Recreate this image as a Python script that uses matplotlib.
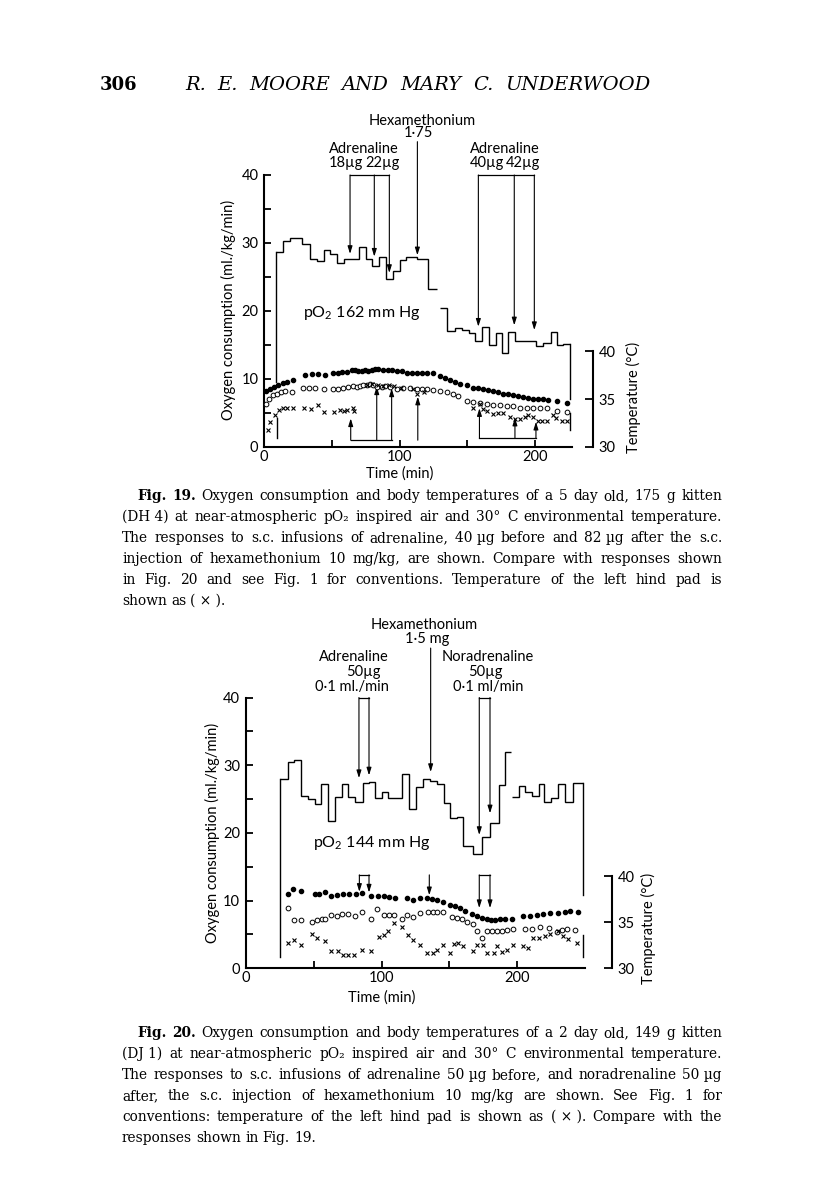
import matplotlib
matplotlib.use('Agg')
import matplotlib.pyplot as plt

plt.rcParams['font.family'] = ['Lato', 'DejaVu Sans']
plt.rcParams['mathtext.fontset'] = 'custom'
plt.rcParams['mathtext.rm'] = 'Lato'
plt.rcParams['mathtext.it'] = 'Lato:italic'
plt.rcParams['axes.linewidth'] = 1.5

W, H = 816, 1184
SERIF = ['DejaVu Serif', 'DejaVu Sans']

# ---------------- Fig. 19 (kitten DH4) ----------------
o2_19_edges_a = [9, 14, 19, 28, 34, 39, 44, 49, 54, 59, 64, 70, 75, 80, 85, 90, 95, 100, 105, 113, 121, 128]
o2_19_vals_a = [28.7, 30.3, 30.8, 29.8, 27.6, 27.3, 28.9, 28.4, 27.1, 27.7, 27.6, 29.4, 27.7, 26.6, 28.0,
                24.7, 25.9, 27.5, 28.0, 27.7, 23.2]
o2_19_edges_b = [130, 135, 141, 146, 151, 156, 161, 166, 171, 176, 180, 185, 201, 206, 212, 216, 221, 226]
o2_19_vals_b = [20.5, 17.1, 17.5, 17.2, 16.7, 15.6, 17.7, 15.0, 16.7, 13.8, 16.9, 15.6, 14.8, 15.3, 16.9,
                15.0, 15.2]

t19_rect = [1.2, 4.4, 7.4, 10.6, 13.8, 17.2, 21.2, 30.2, 35.2, 40.1, 45.0, 51.2, 54.9, 57.4, 61.0, 64.7,
            67.2, 69.7, 72.1, 74.6, 77.0, 79.5, 81.9, 84.4, 88.1, 91.8, 94.2, 97.9, 101.6, 105.3, 109.0,
            112.7, 116.4, 120.1, 125.0, 129.9, 133.6, 137.3, 140.9, 145.0, 149.6, 154.5, 158.2, 161.9,
            165.6, 169.3, 173.0, 176.6, 180.3, 184.0, 187.7, 191.4, 195.1, 198.8, 202.5, 206.2, 209.8,
            216.0, 223.4]
temp19_rect = [35.8, 36.1, 36.3, 36.5, 36.7, 36.8, 37.0, 37.5, 37.6, 37.6, 37.5, 37.7, 37.7, 37.8, 37.8,
               38.0, 38.0, 37.9, 37.9, 38.0, 37.9, 38.0, 38.1, 38.1, 38.0, 38.0, 38.0, 37.9, 37.9, 37.7,
               37.7, 37.7, 37.7, 37.7, 37.7, 37.4, 37.2, 37.0, 36.8, 36.6, 36.5, 36.2, 36.2, 36.1, 35.9,
               35.8, 35.7, 35.5, 35.5, 35.4, 35.3, 35.2, 35.1, 35.0, 35.0, 35.0, 34.9, 34.8, 34.6]
t19_open = [1.2, 4.0, 6.9, 9.8, 12.8, 15.7, 20.4, 29.0, 33.4, 37.6, 44.3, 51.2, 54.9, 58.6, 62.2, 65.5,
            68.4, 70.9, 73.3, 75.8, 78.3, 80.7, 83.2, 86.9, 89.4, 93.0, 97.9, 102.8, 107.8, 112.7, 116.4,
            120.1, 125.0, 130.0, 134.8, 139.7, 143.5, 149.6, 154.5, 159.4, 164.3, 169.3, 174.2, 179.1,
            184.0, 188.9, 193.8, 198.8, 203.7, 208.6, 216.0, 223.4]
temp19_open = [34.5, 35.0, 35.4, 35.5, 35.7, 35.8, 35.7, 36.2, 36.2, 36.2, 36.1, 36.1, 36.1, 36.2, 36.3,
               36.4, 36.3, 36.4, 36.5, 36.5, 36.6, 36.5, 36.3, 36.3, 36.4, 36.3, 36.1, 36.2, 36.2, 36.1,
               36.0, 36.0, 35.9, 35.8, 35.7, 35.5, 35.3, 34.8, 34.7, 34.6, 34.5, 34.4, 34.4, 34.3, 34.3,
               34.1, 34.1, 34.1, 34.1, 34.1, 33.8, 33.7]
t19_pad = [2.7, 4.4, 8.1, 11.3, 14.3, 17.2, 21.2, 29.8, 34.7, 39.6, 44.5, 51.7, 56.1, 59.1, 61.0, 65.5,
           66.5, 76.0, 80.0, 84.0, 88.0, 92.0, 96.0, 101.0, 110.0, 113.0, 118.0, 154.5, 159.4, 161.9,
           164.3, 169.0, 173.0, 176.6, 181.5, 185.2, 189.0, 192.5, 195.0, 198.8, 202.0, 205.5, 208.6,
           213.5, 215.5, 219.6, 223.4]
temp19_pad = [31.8, 32.6, 33.3, 33.9, 34.1, 34.1, 34.1, 34.1, 34.0, 34.4, 33.7, 33.6, 33.9, 33.8, 33.9,
              34.1, 33.8, 36.5, 36.6, 36.5, 36.4, 36.5, 36.4, 36.2, 36.0, 35.5, 35.7, 34.1, 34.5, 34.0,
              33.8, 33.4, 33.5, 33.5, 33.1, 32.9, 32.9, 33.1, 33.3, 33.1, 32.7, 32.7, 32.7, 33.3, 33.0,
              32.7, 32.7]

# ---------------- Fig. 20 (kitten DJ1) ----------------
o2_20_edges_a = [25.3, 30.9, 35.6, 40.5, 46.1, 51.0, 55.2, 60.8, 65.8, 70.7, 75.6, 80.5, 86.2, 90.8, 95.2,
                 100.1, 105.0, 115.3, 120.3, 125.2, 130.8, 135.7, 140.6, 146.0, 150.4, 155.4, 160.2,
                 167.6, 174.0, 180.0, 186.5, 191.0, 195.0]
o2_20_vals_a = [27.9, 30.5, 30.8, 25.5, 25.0, 24.2, 27.2, 21.8, 25.3, 27.2, 25.3, 24.6, 27.4, 27.5, 25.2,
                26.1, 25.1, 28.7, 23.5, 26.8, 27.9, 27.6, 27.2, 24.4, 22.2, 22.3, 18.0, 16.9, 19.4, 21.5,
                27.1, 32.0]
o2_20_edges_b = [196, 201, 206, 211, 216, 220, 225, 230, 235, 241, 248.6]
o2_20_vals_b = [25.3, 27.0, 26.0, 25.4, 27.2, 24.5, 25.2, 27.2, 24.5, 27.3]

t20_rect = [31.4, 35.1, 40.7, 51.0, 54.0, 58.4, 62.8, 67.0, 71.4, 76.3, 81.2, 85.9, 92.0, 97.7, 101.8,
            105.5, 110.0, 118.5, 123.0, 128.4, 133.3, 137.0, 140.6, 145.6, 150.5, 154.2, 157.9, 161.6,
            166.5, 170.2, 173.9, 177.6, 180.5, 183.7, 187.4, 191.0, 196.0, 204.5, 209.4, 214.3, 219.2,
            224.1, 230.3, 235.2, 238.8, 245.0]
temp20_rect = [38.1, 38.6, 38.4, 38.1, 38.1, 38.3, 37.9, 38.0, 38.1, 38.1, 38.1, 38.2, 37.8, 37.8, 37.8,
               37.7, 37.6, 37.6, 37.4, 37.6, 37.6, 37.5, 37.4, 37.2, 36.9, 36.8, 36.5, 36.2, 35.9, 35.7,
               35.5, 35.4, 35.3, 35.3, 35.4, 35.4, 35.4, 35.7, 35.7, 35.8, 35.9, 36.0, 36.0, 36.1, 36.2,
               36.1]
t20_open = [31.4, 35.8, 40.7, 48.6, 52.3, 56.0, 58.4, 62.8, 67.0, 70.6, 75.6, 80.5, 85.9, 92.0, 97.0,
            101.8, 105.5, 109.4, 115.3, 118.5, 123.5, 128.4, 134.5, 138.2, 141.1, 145.6, 151.7, 155.4,
            159.1, 162.8, 167.7, 170.6, 173.9, 177.6, 181.3, 185.0, 188.6, 192.3, 197.2, 205.8, 210.7,
            216.8, 223.0, 229.1, 232.8, 236.5, 242.7]
temp20_open = [36.5, 35.2, 35.2, 35.0, 35.2, 35.4, 35.4, 35.8, 35.7, 35.9, 35.9, 35.7, 36.1, 35.4, 36.4,
               35.8, 35.8, 35.8, 35.4, 35.8, 35.6, 36.0, 36.1, 36.1, 36.1, 36.1, 35.6, 35.5, 35.4, 35.0,
               34.8, 34.0, 33.3, 34.0, 34.0, 34.0, 34.1, 34.2, 34.3, 34.3, 34.3, 34.5, 34.4, 33.9, 34.2,
               34.3, 34.2]
t20_pad = [30.9, 35.6, 40.5, 48.6, 52.3, 58.4, 62.8, 68.2, 71.4, 75.6, 80.0, 85.4, 92.0, 98.2, 101.8,
           105.0, 109.2, 115.3, 119.7, 123.5, 128.4, 133.8, 138.2, 140.6, 145.6, 150.5, 153.4, 156.6,
           160.3, 167.7, 170.6, 174.5, 178.0, 182.5, 185.4, 188.6, 192.3, 197.2, 204.5, 208.2, 211.8,
           216.2, 220.4, 224.1, 230.3, 234.0, 237.7, 244.3]
temp20_pad = [32.8, 33.1, 32.5, 33.7, 33.3, 33.0, 31.9, 31.9, 31.4, 31.4, 31.4, 32.0, 31.9, 33.4, 33.6,
              34.0, 34.9, 34.5, 33.6, 33.1, 32.5, 31.7, 31.7, 32.0, 32.5, 31.7, 32.6, 32.8, 32.4, 31.9,
              32.5, 32.5, 31.7, 31.7, 32.4, 31.8, 32.0, 32.5, 32.4, 32.2, 33.3, 33.3, 33.5, 33.7, 34.0,
              33.5, 33.2, 32.8]

caption19 = [
    "Fig. 19.  Oxygen consumption and body temperatures of a 5 day old, 175 g kitten",
    "(DH\u00a04) at near-atmospheric pO\u2082 inspired air and 30° C environmental temperature.",
    "The responses to s.c. infusions of adrenaline, 40\u00a0µg before and 82\u00a0µg after the s.c.",
    "injection of hexamethonium 10 mg/kg, are shown.  Compare with responses shown",
    "in Fig. 20 and see Fig. 1 for conventions. Temperature of the left hind pad is",
    "shown as (\u00a0×\u00a0).",
]
caption20 = [
    "Fig. 20.  Oxygen consumption and body temperatures of a 2 day old, 149 g kitten",
    "(DJ\u00a01) at near-atmospheric pO\u2082 inspired air and 30° C environmental temperature.",
    "The responses to s.c. infusions of adrenaline 50\u00a0µg before, and noradrenaline 50\u00a0µg",
    "after, the s.c. injection of hexamethonium 10 mg/kg are shown.  See Fig. 1 for",
    "conventions: temperature of the left hind pad is shown as (\u00a0×\u00a0).  Compare with the",
    "responses shown in Fig. 19.",
]

fig = plt.figure(figsize=(W / 100, H / 100), dpi=100)
renderer = fig.canvas.get_renderer()


def make_panel(left, bottom, xmax, ppm, ppu, o2_at_40c, t_spine):
    # pixel geometry
    ax = fig.add_axes([left / W, 1 - bottom / H, xmax * ppm / W, 40 * ppu / H])
    ax.set_xlim(0, xmax)
    ax.set_ylim(0, 40)
    ax.spines['top'].set_visible(False)
    ax.spines['right'].set_visible(False)
    ax.set_xticks([0, 100, 200])
    ax.set_xticks([50, 150], minor=True)
    ax.set_yticks([0, 10, 20, 30, 40])
    ax.set_yticks([5, 15, 25, 35], minor=True)
    ax.tick_params(which='both', direction='in', length=5, width=1.3, labelsize=10.5, pad=4)
    ax.tick_params(axis='x', pad=2)
    tw = ax.twinx()
    tw.set_ylim(30, 30 + 10 * 40 / o2_at_40c)
    for s in ['top', 'left', 'bottom']:
        tw.spines[s].set_visible(False)
    tw.spines['right'].set_position(('axes', t_spine / xmax))
    tw.spines['right'].set_bounds(30, 40)
    tw.set_yticks([30, 35, 40])
    tw.tick_params(direction='in', length=6, width=1.3, labelsize=10.5, pad=4)
    return ax, tw


def arrow(ax, x, y_from, y_to):
    ax.annotate('', xy=(x, y_to), xytext=(x, y_from), annotation_clip=False,
                arrowprops=dict(arrowstyle='-|>,head_length=0.45,head_width=0.14', lw=0.8,
                                color='k', shrinkA=0, shrinkB=0))


def bracket(ax, xs, y_bar, tips):
    ax.plot([xs[0], xs[-1]], [y_bar, y_bar], color='k', lw=0.9, clip_on=False)
    for x, tip in zip(xs, tips):
        arrow(ax, x, y_bar, tip)


def temps(tw, t_r, v_r, t_o, v_o, t_p, v_p):
    tw.plot(t_r, v_r, 'o', ms=3, color='k', clip_on=False)
    tw.plot(t_o, v_o, 'o', ms=3.4, mfc='white', mec='k', mew=0.7, clip_on=False)
    tw.plot(t_p, v_p, 'x', ms=3.4, color='k', mew=0.8, clip_on=False)


def put_line(words, x0, x1, y, fs, justify, bold=0, style='normal'):
    # lay words out one by one so the line can be justified like the printed page
    texts = []
    for j, w in enumerate(words):
        fam = 'DejaVu Serif' if all(ord(c) < 256 for c in w) else SERIF
        texts.append(fig.text(0, 0, w, fontsize=fs, family=fam, va='baseline', ha='left',
                              weight='bold' if j < bold else 'normal', style=style))
    widths = [t.get_window_extent(renderer=renderer).width for t in texts]
    if justify and len(words) > 1:
        gap = max((x1 - x0 - sum(widths)) / (len(words) - 1), 2.5)
    else:
        gap = fs * 0.3 * 100 / 72
    x = x0
    for t, wd in zip(texts, widths):
        t.set_position((x / W, 1 - y / H))
        x += wd + gap


def caption(lines, y_first, dy):
    for i, line in enumerate(lines):
        words = [w for w in line.split(' ') if w]
        x0 = 137 if i == 0 else 122
        put_line(words, x0, 722, y_first + i * dy, 9.9, i < len(lines) - 1, bold=2 if i == 0 else 0)


# ---------- Fig. 19 ----------
ax, tw = make_panel(264, 447, 227, 1.355, 6.8, 14.1, 243)
ax.stairs(o2_19_vals_a, o2_19_edges_a, baseline=None, color='k', lw=1.0)
ax.stairs(o2_19_vals_b, o2_19_edges_b, baseline=None, color='k', lw=1.0)
ax.plot([9, 9], [9.5, o2_19_vals_a[0]], color='k', lw=1.0)
ax.plot([9.5, 9.5], [1.3, 4.3], color='k', lw=1.0)
ax.plot([226, 226], [o2_19_vals_b[-1], 7.0], color='k', lw=1.0)
ax.plot([226, 226], [2.5, 5.0], color='k', lw=1.0)
temps(tw, t19_rect, temp19_rect, t19_open, temp19_open, t19_pad, temp19_pad)

bracket(ax, [63.5, 81.4, 92.5], 40, [28.4, 28.0, 25.6])
bracket(ax, [158.2, 184.7, 199.5], 40, [17.7, 17.9, 17.2])
arrow(ax, 113.2, 44.9, 28.2)
bracket(ax, [64, 83.2, 94.2], 1.0, [4.2, 8.9, 8.6])
bracket(ax, [159, 185.2, 200.7], 1.3, [5.7, 4.3, 3.7])
arrow(ax, 113.5, 1.0, 7.4)

ax.text(116.4, 48.0, 'Hexamethonium', ha='center', va='center', fontsize=10.5, clip_on=False)
ax.text(113.9, 46.2, '1·75', ha='center', va='center', fontsize=10.5, clip_on=False)
ax.text(73.8, 43.8, 'Adrenaline', ha='center', va='center', fontsize=10.5, clip_on=False)
ax.text(60.5, 41.8, '18µg', ha='center', va='center', fontsize=10.5, clip_on=False)
ax.text(87.6, 41.8, '22µg', ha='center', va='center', fontsize=10.5, clip_on=False)
ax.text(177.9, 43.8, 'Adrenaline', ha='center', va='center', fontsize=10.5, clip_on=False)
ax.text(164.4, 41.8, '40µg', ha='center', va='center', fontsize=10.5, clip_on=False)
ax.text(191.4, 41.8, '42µg', ha='center', va='center', fontsize=10.5, clip_on=False)
ax.text(28.8, 19.7, 'pO$_2$ 162 mm Hg', ha='left', va='center', fontsize=11.5)

fig.text(228 / W, 1 - 310 / H, 'Oxygen consumption (ml./kg/min)', rotation=90,
         ha='center', va='center', fontsize=10.5)
fig.text(633 / W, 1 - 397 / H, 'Temperature (°C)', rotation=90, ha='center', va='center', fontsize=10.5)
fig.text(400 / W, 1 - 474 / H, 'Time (min)', ha='center', va='center', fontsize=10.5)

# ---------- Fig. 20 ----------
ax, tw = make_panel(245.7, 968.3, 250, 1.358, 6.77, 13.6, 270)
ax.stairs(o2_20_vals_a, o2_20_edges_a, baseline=None, color='k', lw=1.0)
ax.stairs(o2_20_vals_b, o2_20_edges_b, baseline=None, color='k', lw=1.0)
ax.plot([25.3, 25.3], [1.7, o2_20_vals_a[0]], color='k', lw=1.0)
ax.plot([248.6, 248.6], [o2_20_vals_b[-1], 10.8], color='k', lw=1.0)
ax.plot([248.6, 248.6], [1.7, 4.9], color='k', lw=1.0)
temps(tw, t20_rect, temp20_rect, t20_open, temp20_open, t20_pad, temp20_pad)

bracket(ax, [83.4, 90.8], 40, [28.1, 28.5])
bracket(ax, [172, 179.9], 40, [19.7, 22.9])
arrow(ax, 136.2, 47.3, 29.0)
bracket(ax, [83.7, 90.8], 13.8, [11.3, 11.2])
arrow(ax, 135.2, 13.8, 10.8)
bracket(ax, [172, 179.9], 13.8, [8.9, 8.9])

ax.text(131.3, 50.7, 'Hexamethonium', ha='center', va='center', fontsize=10.5, clip_on=False)
ax.text(133.3, 48.6, '1·5 mg', ha='center', va='center', fontsize=10.5, clip_on=False)
ax.text(79.7, 46.0, 'Adrenaline', ha='center', va='center', fontsize=10.5, clip_on=False)
ax.text(86.6, 43.8, '50µg', ha='center', va='center', fontsize=10.5, clip_on=False)
ax.text(78.5, 41.6, '0·1 ml./min', ha='center', va='center', fontsize=10.5, clip_on=False)
ax.text(177.9, 46.0, 'Noradrenaline', ha='center', va='center', fontsize=10.5, clip_on=False)
ax.text(176.2, 43.8, '50µg', ha='center', va='center', fontsize=10.5, clip_on=False)
ax.text(178.6, 41.6, '0·1 ml/min', ha='center', va='center', fontsize=10.5, clip_on=False)
ax.text(49.6, 18.5, 'pO$_2$ 144 mm Hg', ha='left', va='center', fontsize=11.5)

fig.text(212 / W, 1 - 833 / H, 'Oxygen consumption (ml./kg/min)', rotation=90,
         ha='center', va='center', fontsize=10.5)
fig.text(648 / W, 1 - 928 / H, 'Temperature (°C)', rotation=90, ha='center', va='center', fontsize=10.5)
fig.text(382 / W, 1 - 998 / H, 'Time (min)', ha='center', va='center', fontsize=10.5)

# ---------- page header and captions ----------
put_line(['306'], 100, 140, 90, 13, False, bold=1)
put_line('R. E. MOORE AND MARY C. UNDERWOOD'.split(' '), 185, 650, 90, 14, True, style='italic')
caption(caption19, 500, 21)
caption(caption20, 1037, 21)

fig.savefig('out.png', dpi=100)
